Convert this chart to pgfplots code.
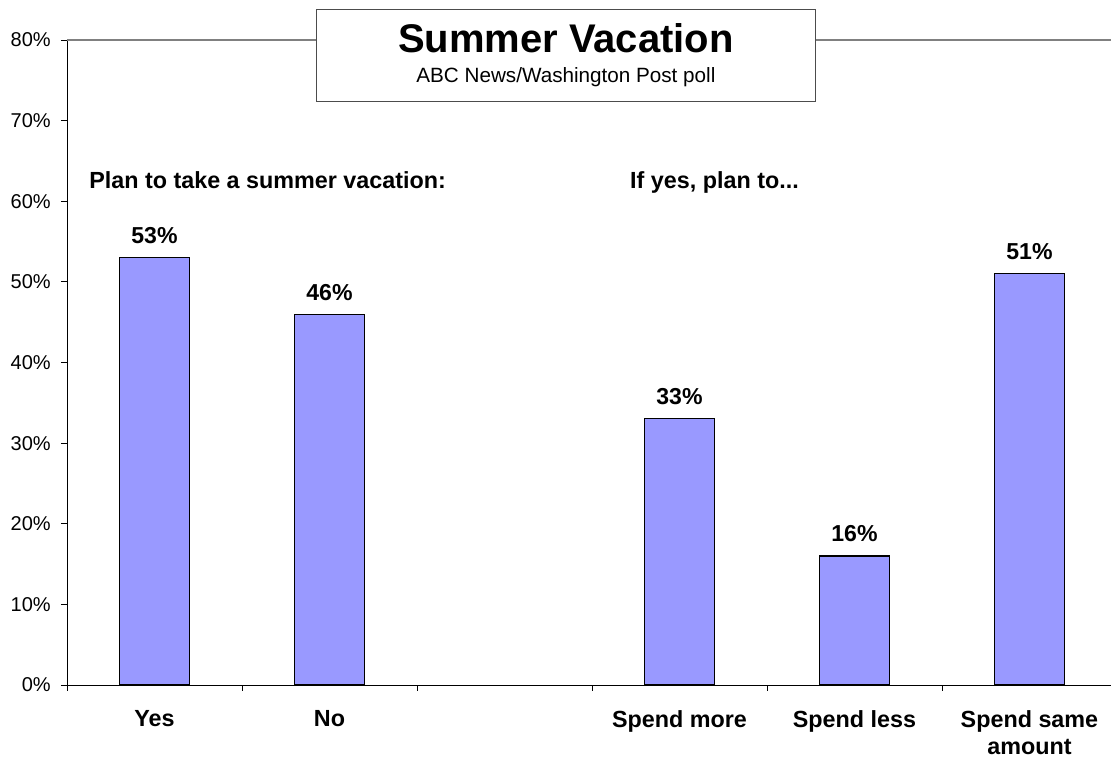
\documentclass[border=0pt]{standalone}
\usepackage{fontspec}
\setmainfont{Liberation Sans}
\usepackage{pgfplots}
\pgfplotsset{compat=1.18}
\definecolor{barblue}{HTML}{9999FF}
\begin{document}
\begin{tikzpicture}
\useasboundingbox (0pt,0pt) rectangle (833.25pt,569.25pt);
\begin{axis}[
  at={(50.25pt,55.5pt)}, anchor=south west,
  scale only axis, width=783pt, height=483.75pt,
  xmin=-0.5, xmax=5.466, ymin=0, ymax=80,
  axis x line*=bottom, axis y line*=left,
  axis line style={black, line width=0.7pt},
  clip=false,
  ybar, bar width=0.4,
  xtick={-0.5,0.5,1.5,2.5,3.5,4.5},
  xticklabels={Yes,No,,Spend more,Spend less,{Spend same\\amount}},
  xticklabel style={xshift=65.625pt, yshift=-14.6pt, inner sep=0pt, align=center,
    font=\bfseries\fontsize{17.5}{20.5}\selectfont},
  ytick={0,10,...,80},
  yticklabel={\pgfmathprintnumber{\tick}\%},
  yticklabel style={font=\fontsize{15}{15}\selectfont, inner sep=0pt, xshift=-7.5pt},
  /pgf/number format/assume math mode=true,
  tick align=outside, major tick length=4.5pt,
  tick style={black, line width=0.6pt},
  nodes near coords={\pgfmathprintnumber{\pgfplotspointmeta}\%},
  every node near coord/.append style={font=\bfseries\fontsize{17.3}{17.3}\selectfont, inner sep=0pt, yshift=10pt},
]
\draw[gray, line width=0.9pt] (axis cs:-0.5,80) -- (axis cs:5.466,80);
\addplot[fill=barblue, draw=black, line width=0.8pt] coordinates {
  (0,53) (1,46) (3,33) (4,16) (5,51)
};
\node[draw=black!70, line width=0.8pt, fill=white, minimum width=374pt, minimum height=69pt, inner sep=0pt]
  at (axis cs:2.351,78.05) {};
\node[anchor=base, inner sep=0pt, font=\bfseries\fontsize{30}{30}\selectfont] at (axis cs:2.351,78.39) {Summer Vacation};
\node[anchor=base, inner sep=0pt, font=\fontsize{15.5}{15.5}\selectfont] at (axis cs:2.351,74.79) {ABC News/Washington Post poll};
\node[anchor=base west, inner sep=0pt, font=\bfseries\fontsize{17.5}{17.5}\selectfont] at (axis cs:-0.374,61.58) {Plan to take a summer vacation:};
\node[anchor=base west, inner sep=0pt, font=\bfseries\fontsize{17.5}{17.5}\selectfont] at (axis cs:2.717,61.58) {If yes, plan to...};
\end{axis}
\end{tikzpicture}
\end{document}
